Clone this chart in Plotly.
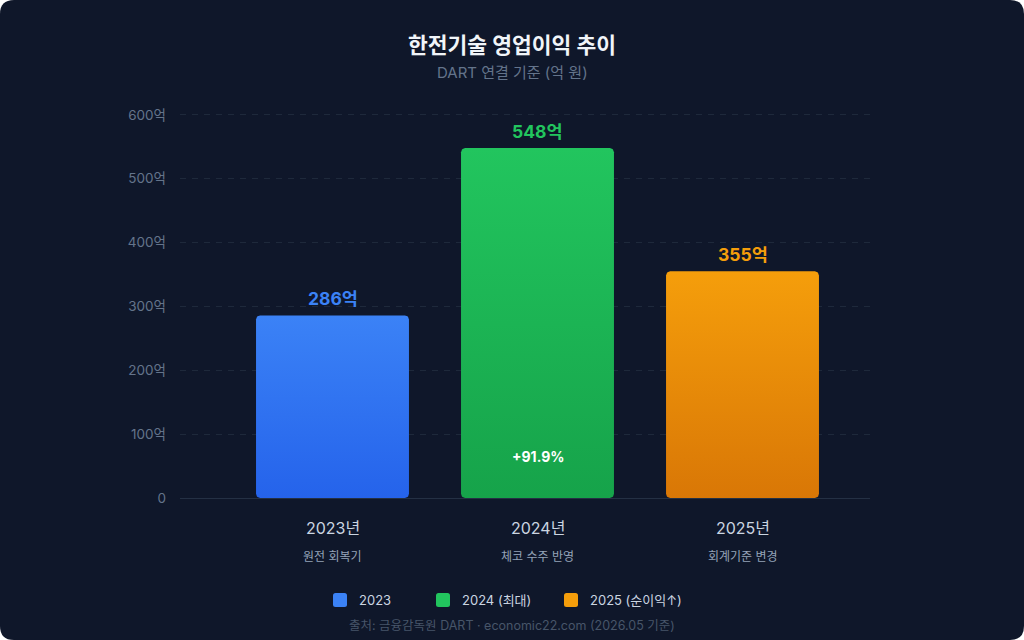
import numpy as np
import plotly.graph_objects as go

# data
years = ['2023년', '2024년', '2025년']
notes = ['원전 회복기', '체코 수주 반영', '회계기준 변경']
profit = [286, 548, 355]
legend_names = ['2023', '2024 (최대)', '2025 (순이익↑)']
top_colors = ['#3b82f6', '#22c55e', '#f59e0b']
bottom_colors = ['#2563eb', '#16a34a', '#d97706']
label_colors = ['#3b82f6', '#22c55e', '#f59e0b']
y_ticks = [0, 100, 200, 300, 400, 500, 600]
y_ticktext = ['0'] + [f'{v}억' for v in y_ticks[1:]]
growth_text = '+91.9%'

W, H = 1024, 640
ML, MR, MT, MB = 180, 154, 113, 142
BG = '#0f172a'
FONT = 'Inter, "Noto Sans CJK KR", sans-serif'
legend_left = [333, 436, 564]  # pixel x of each legend swatch


def px(x):
    return (x - ML) / (W - ML - MR)


def py(y):
    return (H - MB - y) / (H - MT - MB)


def rounded_rect_path(x0, y0, x1, y1, r):
    # pixel rectangle -> paper path with rounded corners
    return (f'M {px(x0 + r)},{py(y0)} L {px(x1 - r)},{py(y0)} Q {px(x1)},{py(y0)} {px(x1)},{py(y0 + r)} '
            f'L {px(x1)},{py(y1 - r)} Q {px(x1)},{py(y1)} {px(x1 - r)},{py(y1)} '
            f'L {px(x0 + r)},{py(y1)} Q {px(x0)},{py(y1)} {px(x0)},{py(y1 - r)} '
            f'L {px(x0)},{py(y0 + r)} Q {px(x0)},{py(y0)} {px(x0 + r)},{py(y0)} Z')


def rounded_bar(xc, h, w=0.746, rx=0.02, ry=6.5, n=8):
    # outline of a bar with small rounded corners, in data units
    x0, x1 = xc - w / 2, xc + w / 2
    t = np.linspace(0, np.pi / 2, n)
    xs, ys = [], []
    for cx, cy, a0 in [(x0 + rx, ry, np.pi), (x1 - rx, ry, 1.5 * np.pi),
                       (x1 - rx, h - ry, 0), (x0 + rx, h - ry, 0.5 * np.pi)]:
        xs += list(cx + rx * np.cos(a0 + t))
        ys += list(cy + ry * np.sin(a0 + t))
    return xs + [xs[0]], ys + [ys[0]]


fig = go.Figure()

for i, v in enumerate(profit):
    bx, by = rounded_bar(i, v)
    fig.add_trace(go.Scatter(
        x=bx, y=by, mode='lines', fill='toself', name=legend_names[i],
        line=dict(width=0, color=top_colors[i]),
        fillgradient=dict(type='vertical',
                          colorscale=[[0, bottom_colors[i]], [1, top_colors[i]]]),
        showlegend=False, hoverinfo='skip'))

annotations = []
for i, v in enumerate(profit):
    annotations.append(dict(x=i, y=v, xref='x', yref='y', text=f'<b>{v}억</b>',
                            showarrow=False, yanchor='middle', yshift=17,
                            font=dict(size=17.5, color=label_colors[i], family=FONT)))
    annotations.append(dict(x=i, y=0, xref='x', yref='paper', text=years[i],
                            showarrow=False, yanchor='middle', yshift=-30,
                            font=dict(size=16, color='#cbd5e1', family=FONT)))
    annotations.append(dict(x=i, y=0, xref='x', yref='paper', text=notes[i],
                            showarrow=False, yanchor='middle', yshift=-58,
                            font=dict(size=12, color='#94a3b8', family=FONT)))

annotations.append(dict(x=1, y=0, xref='x', yref='y', text=f'<b>{growth_text}</b>',
                        showarrow=False, yanchor='middle', yshift=42,
                        font=dict(size=14, color='#ffffff', family=FONT)))
annotations.append(dict(x=px(512), y=py(73), xref='paper', yref='paper',
                        text='DART 연결 기준 (억 원)', showarrow=False, yanchor='middle',
                        font=dict(size=15, color='#64748b', family=FONT)))
annotations.append(dict(x=px(512), y=py(625), xref='paper', yref='paper',
                        text='출처: 금융감독원 DART · economic22.com (2026.05 기준)',
                        showarrow=False, yanchor='middle',
                        font=dict(size=12.5, color='#475569', family=FONT)))

# card background and legend swatches + labels
shapes = [dict(type='path', path=rounded_rect_path(0, 0, W, H, 14), xref='paper', yref='paper',
               fillcolor=BG, line=dict(width=0), layer='below')]
for i, name in enumerate(legend_names):
    lx = legend_left[i]
    shapes.append(dict(type='path', path=rounded_rect_path(lx, 593, lx + 14, 607, 2.5),
                       xref='paper', yref='paper', fillcolor=top_colors[i],
                       line=dict(width=0)))
    annotations.append(dict(x=px(lx + 24), y=py(600), xref='paper', yref='paper',
                            text=name, showarrow=False, xanchor='left', yanchor='middle',
                            font=dict(size=13, color='#cbd5e1', family=FONT)))

fig.update_layout(
    width=W, height=H,
    margin=dict(l=ML, r=MR, t=MT, b=MB),
    paper_bgcolor='#ffffff',
    plot_bgcolor='rgba(0,0,0,0)',
    font=dict(family=FONT, color='#cbd5e1'),
    title=dict(text='<b>한전기술 영업이익 추이</b>', x=0.5, xref='container',
               y=1 - 45 / H, yref='container', yanchor='middle', xanchor='center',
               font=dict(size=21.5, color='#f1f5f9', family=FONT)),
    shapes=shapes,
    annotations=annotations,
    showlegend=False,
    xaxis=dict(range=[(ML - 332.5) / 205, (W - MR - 332.5) / 205],
               showgrid=False, zeroline=False, showticklabels=False,
               showline=False, fixedrange=True),
    yaxis=dict(range=[0, 603], tickvals=y_ticks, ticktext=y_ticktext,
               showgrid=True, gridcolor='#1e293b', griddash='6px,6px', gridwidth=1,
               zeroline=True, zerolinecolor='#243044', zerolinewidth=1,
               showline=False, ticks='', ticklabelstandoff=13,
               tickfont=dict(size=13.5, color='#64748b', family=FONT)),
    hovermode=False,
)

fig.write_html('out.html', config={'displayModeBar': False},
               post_script="document.body.style.margin='0';")
